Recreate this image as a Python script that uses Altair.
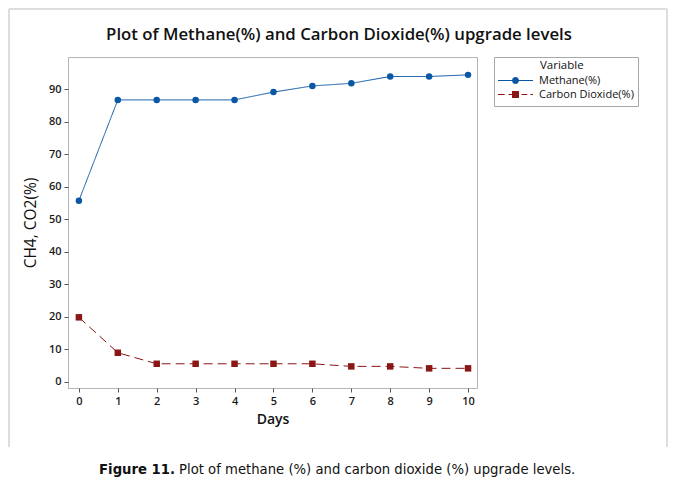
import altair as alt
import pandas as pd

days = list(range(11))
methane = [55.7, 86.7, 86.7, 86.7, 86.7, 89.1, 91.0, 91.8, 93.9, 93.9, 94.4]
co2 = [19.8, 8.9, 5.5, 5.5, 5.5, 5.5, 5.5, 4.7, 4.7, 4.1, 4.1]
series = ["Methane(%)", "Carbon Dioxide(%)"]
colors = ["#0b57a6", "#8b1616"]
x_ticks = list(range(0, 11))
y_ticks = list(range(0, 100, 10))

# legend glyphs (unit-square SVG paths): line + marker
glyph_methane = ("M-1,-0.03H1V0.03H-1Z "
                 "M-0.2,0A0.2,0.2 0 1 1 0.2,0A0.2,0.2 0 1 1 -0.2,0Z")
glyph_co2 = ("M-1,-0.03H-0.62V0.03H-1Z "
             "M-0.4,-0.03H-0.2V0.03H-0.4Z "
             "M-0.2,-0.2H0.2V0.2H-0.2Z "
             "M0.35,-0.03H0.68V0.03H0.35Z "
             "M0.85,-0.03H1V0.03H0.85Z")

rows = []
for d, m, c in zip(days, methane, co2):
    rows.append({"Days": d, "Value": m, "Variable": series[0], "Leg": series[0]})
    rows.append({"Days": d, "Value": c, "Variable": series[1], "Leg": series[1]})
df = pd.DataFrame(rows)

FONT = "Open Sans"

xenc = alt.X("Days:Q", title="Days",
             scale=alt.Scale(domain=[-0.28, 10.23], nice=False, zero=False),
             axis=alt.Axis(values=x_ticks, format="d", titlePadding=6))
yenc = alt.Y("Value:Q", title="CH4, CO2(%)",
             scale=alt.Scale(domain=[-1.95, 99.9], nice=False, zero=False),
             axis=alt.Axis(values=y_ticks, titlePadding=10, titleFontWeight=500, titleFontSize=15.5))

base = alt.Chart(df)

lines = base.mark_line(strokeWidth=1).encode(
    x=xenc, y=yenc,
    color=alt.Color("Variable:N", scale=alt.Scale(domain=series, range=colors), legend=None),
    strokeDash=alt.StrokeDash("Variable:N", scale=alt.Scale(domain=series, range=[[1, 0], [9, 5]]),
                              legend=None),
)

points = base.mark_point(filled=True, size=42, opacity=1).encode(
    x=xenc, y=yenc,
    color=alt.Color("Variable:N", scale=alt.Scale(domain=series, range=colors), legend=None),
    shape=alt.Shape("Variable:N", scale=alt.Scale(domain=series, range=["circle", "square"]), legend=None),
)

leg = alt.Legend(title="Variable", orient="none", legendX=426, legendY=0,
                 symbolSize=1225, symbolStrokeWidth=0,
                 clipHeight=14, rowPadding=0, labelOffset=6, titleColor="transparent",
                 titlePadding=1, strokeColor="#a8a8a8", padding=4)

legend_layer = base.transform_filter("false").mark_point(filled=True, opacity=1).encode(
    x=xenc, y=yenc,
    color=alt.Color("Leg:N", scale=alt.Scale(domain=series, range=colors), legend=leg),
    shape=alt.Shape("Leg:N", scale=alt.Scale(domain=series, range=[glyph_methane, glyph_co2]), legend=leg),
)

one = alt.Data(values=[{"a": 1}])

title = alt.Chart(one).mark_text(font=FONT, fontSize=16.8, fontWeight=600, color="#111",
                                 align="center", baseline="middle").encode(
    x=alt.value(271), y=alt.value(-22), text=alt.value("Plot of Methane(%) and Carbon Dioxide(%) upgrade levels"))

legend_title = alt.Chart(one).mark_text(font=FONT, fontSize=11.5, color="#111",
                                        align="left", baseline="middle").encode(
    x=alt.value(472), y=alt.value(9), text=alt.value("Variable"))

CAPFONT = "DejaVu Sans Condensed, Roboto"
cap_bold = alt.Chart(one).mark_text(font=CAPFONT, fontSize=14.7, fontWeight="bold",
                                    color="#111", align="right", baseline="middle").encode(
    x=alt.value(107), y=alt.value(413), text=alt.value("Figure 11."))
cap_reg = alt.Chart(one).mark_text(font=CAPFONT, fontSize=14.7, color="#111",
                                   align="left", baseline="middle").encode(
    x=alt.value(111), y=alt.value(413),
    text=alt.value("Plot of methane (%) and carbon dioxide (%) upgrade levels."))

border_l = alt.Chart(one).mark_rule(color="#dddddd", strokeWidth=2).encode(
    x=alt.value(-59), y=alt.value(-48), y2=alt.value(390))
border_t = alt.Chart(one).mark_rule(color="#dddddd", strokeWidth=2).encode(
    x=alt.value(-59), x2=alt.value(599), y=alt.value(-48))
border_r = alt.Chart(one).mark_rule(color="#dddddd", strokeWidth=2).encode(
    x=alt.value(599), y=alt.value(-48), y2=alt.value(390))

chart = alt.layer(border_l, border_t, border_r, lines, points, legend_layer,
                  title, legend_title, cap_bold, cap_reg).resolve_scale(
    shape="independent", color="independent"
).properties(
    width=409, height=331,
    autosize=alt.AutoSizeParams(type="none"),
    padding={"left": 60, "top": 49, "right": 194, "bottom": 92},
).configure_view(
    stroke="#b4b4b4", strokeWidth=1
).configure_axis(
    labelFont=FONT, labelFontSize=11, labelColor="#1a1a1a", labelFontWeight=600,
    tickColor="#555", tickSize=4, domain=False, grid=False,
    titleFont=FONT, titleFontSize=14, titleFontWeight=600, titleColor="#111",
    labelPadding=3,
).configure_legend(
    labelFont=FONT, labelFontSize=11, labelColor="#111", labelFontWeight="normal",
    titleFont=FONT, titleFontSize=11.5, titleFontWeight="normal",
)

chart.save("out.html", embed_options={"renderer": "svg", "actions": False})
